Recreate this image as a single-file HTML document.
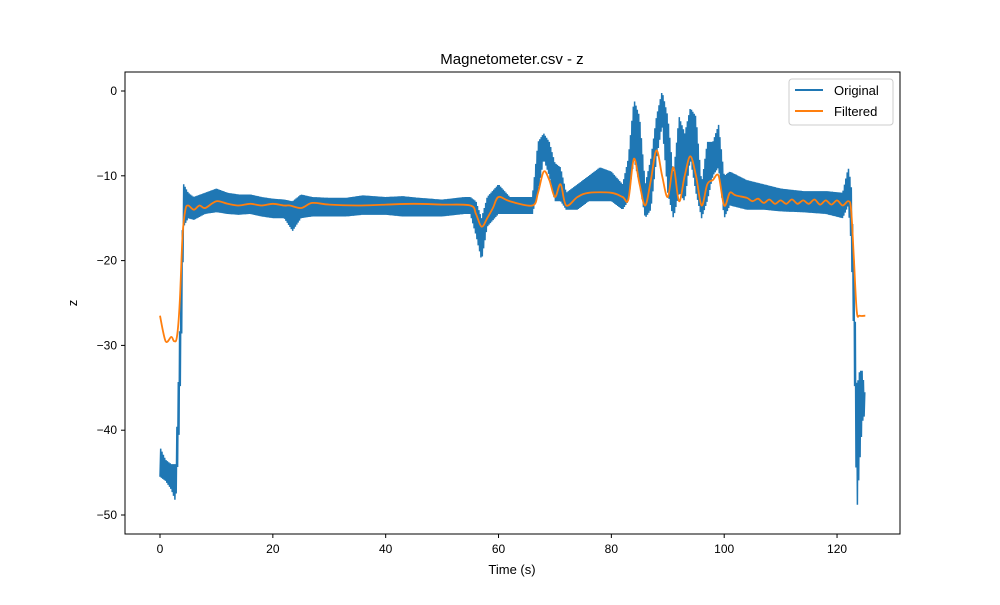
<!DOCTYPE html>
<html><head><meta charset="utf-8"><style>
body{margin:0;background:#fff;}
svg text{font-family:"Liberation Sans","DejaVu Sans",sans-serif;}
</style></head><body>
<svg id="chart" width="1000" height="600" xmlns="http://www.w3.org/2000/svg">
<rect width="1000" height="600" fill="#fff"/>
<text x="512" y="64" text-anchor="middle" font-size="15">Magnetometer.csv - z</text>
<g id="plot"></g>
<g id="axes"></g>
<rect x="125" y="72" width="775" height="462" fill="none" stroke="#000" stroke-width="1"/>
<text x="512" y="574" text-anchor="middle" font-size="13">Time (s)</text>
<text x="77" y="303" text-anchor="middle" font-size="13" transform="rotate(-90 77 303)">z</text>
<g>
<rect x="789" y="79" width="104" height="46" fill="#fff" stroke="#ccc" rx="3"/>
<g><line x1="795" y1="90" x2="823" y2="90" stroke="#1f77b4" stroke-width="2"/><text x="834" y="95" font-size="13">Original</text></g>
<g><line x1="795" y1="111" x2="823" y2="111" stroke="#ff7f0e" stroke-width="2"/><text x="834" y="116" font-size="13">Filtered</text></g>
</g>
</svg>
<script>
const origT=[0,1,2,2.8,3.3,3.8,4.2,5,6,8,10,12,14,16,18,20,22,23.5,25,27,30,33,36,40,43,46,50,54,55,56,57,58,60,62,66,67,68,69,70,71,72,74,76,78,80,82,83,84,85,86,87,88,89,90,91,92,93,94,95,96,97,98,99,100,101,104,107,110,114,118,121,122,122.5,123,123.5,124,124.5,125];
const origLo=[-45.5,-46,-47,-48.5,-42,-30,-16,-15,-15.2,-14.5,-14.3,-14.5,-14.6,-14.5,-14.8,-15,-15,-16.5,-15,-14.8,-14.8,-14.8,-14.6,-14.6,-14.8,-14.8,-14.8,-14.5,-14.5,-17,-20,-16,-14.5,-14.5,-14.5,-12,-8,-10,-13,-13,-14,-14,-13,-13,-13,-14,-13,-8,-11,-15,-14,-8,-4,-12,-15,-12,-13,-8,-12,-15,-13,-10,-9,-15,-13.5,-14,-14,-14.2,-14.3,-14.5,-15,-13.5,-18,-30,-50,-44,-39,-38];
const origHi=[-42,-43.5,-44,-44,-33,-20,-11,-12,-12.5,-12,-11.5,-12,-12.2,-12.2,-12.5,-12.7,-12.8,-13,-12.2,-12.5,-12.6,-12.6,-12.3,-12.5,-12.4,-12.6,-12.8,-12.5,-12.5,-13,-15,-12.5,-11,-12.5,-12.5,-6,-5,-6,-8.5,-9,-12,-11,-10,-9,-9.5,-11,-8,-1,-3,-11,-8,-3,0,-3,-10,-3,-5,-2,-3,-11,-6,-6,-4,-10,-9.5,-10.5,-11,-11.5,-11.8,-11.8,-12,-9,-11,-20,-35,-33,-33,-36];
const filtT=[0,1,2,2.5,3,3.5,4,4.5,5,6,7,8,10,12,14,16,18,20,22,23,25,27,30,35,40,45,50,55,56,57,58,59,60,62,66,67,68,69,70,71,72,74,76,80,82,83,84,85,86,87,88,89,90,91,92,93,94,95,96,97,98,99,100,101,102,104,105,106,107,108,109,110,111,112,113,114,115,116,117,118,119,120,121,122,122.5,123,123.5,124,125];
const filtV=[-26.5,-29.5,-29,-29.5,-29,-25,-17,-14,-13.5,-14,-13.5,-13.8,-13,-13.3,-13.5,-13.3,-13.5,-13.3,-13.5,-13.5,-13.8,-13.2,-13.4,-13.5,-13.4,-13.3,-13.4,-13.5,-14.5,-16,-15,-13.8,-12.5,-13,-13.5,-12,-9.5,-10.5,-12.5,-11,-13.5,-12.5,-12,-12,-12.5,-12.8,-8,-11,-13.5,-10.5,-7,-10,-12.5,-9,-13,-10,-7.7,-10,-13.5,-11,-10.5,-10,-13.5,-12,-12.3,-12.6,-13,-12.7,-13.2,-12.8,-13.3,-12.9,-13.3,-12.8,-13.3,-12.9,-13.3,-12.8,-13.4,-12.9,-13.4,-12.9,-13.5,-13,-14,-20,-26,-26.5,-26.5];
const xTicks=[0,20,40,60,80,100,120];
const yTicks=[0,-10,-20,-30,-40,-50];
const X=t=>160+t*5.642, Y=v=>91-v*8.48;
const NS="http://www.w3.org/2000/svg";
const plot=document.getElementById('plot'), axes=document.getElementById('axes');
function interp(ts,vs,t){for(let i=1;i<ts.length;i++){if(t<=ts[i]){const f=(t-ts[i-1])/(ts[i]-ts[i-1]);return vs[i-1]+f*(vs[i]-vs[i-1]);}}return vs[vs.length-1];}
let pts=[],k=0;
for(let t=origT[0];t<=origT[origT.length-1]+1e-9;t+=0.12){const v=(k%2?interp(origT,origHi,t):interp(origT,origLo,t));pts.push(X(t).toFixed(1)+','+Y(v).toFixed(1));k++;}
const o=document.createElementNS(NS,'polyline');
o.setAttribute('points',pts.join(' '));o.setAttribute('fill','none');o.setAttribute('stroke','#1f77b4');o.setAttribute('stroke-width','1.5');


plot.appendChild(o);
const P=filtT.map((t,i)=>[X(t),Y(filtV[i])]);
let d='M'+P[0][0].toFixed(1)+','+P[0][1].toFixed(1);
for(let i=0;i<P.length-1;i++){const p0=P[Math.max(0,i-1)],p1=P[i],p2=P[i+1],p3=P[Math.min(P.length-1,i+2)];
const c1=[p1[0]+(p2[0]-p0[0])/6,p1[1]+(p2[1]-p0[1])/6],c2=[p2[0]-(p3[0]-p1[0])/6,p2[1]-(p3[1]-p1[1])/6];
d+=` C${c1[0].toFixed(1)},${c1[1].toFixed(1)} ${c2[0].toFixed(1)},${c2[1].toFixed(1)} ${p2[0].toFixed(1)},${p2[1].toFixed(1)}`;}
const f=document.createElementNS(NS,'path');
f.setAttribute('d',d);f.setAttribute('fill','none');f.setAttribute('stroke','#ff7f0e');f.setAttribute('stroke-width','1.8');f.setAttribute('stroke-linejoin','round');


plot.appendChild(f);
xTicks.forEach(t=>{const g=document.createElementNS(NS,'g');


g.innerHTML=`<line x1="${X(t)}" y1="534" x2="${X(t)}" y2="538" stroke="#000"/><text x="${X(t)}" y="553" text-anchor="middle" font-size="12">${t}</text>`;axes.appendChild(g);});
yTicks.forEach(v=>{const g=document.createElementNS(NS,'g');


g.innerHTML=`<line x1="121" y1="${Y(v)}" x2="125" y2="${Y(v)}" stroke="#000"/><text x="117" y="${Y(v)+4}" text-anchor="end" font-size="12">${v<0?'\u2212'+(-v):v}</text>`;axes.appendChild(g);});
</script>
</body></html>
